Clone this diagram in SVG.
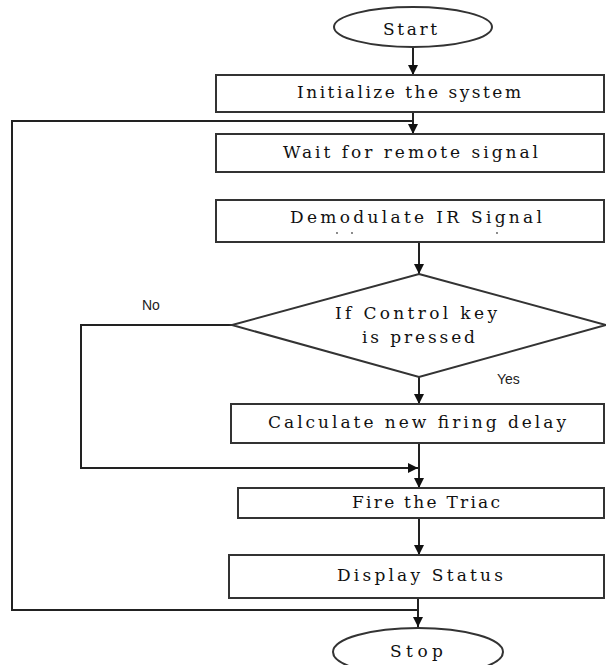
<svg xmlns="http://www.w3.org/2000/svg" width="606" height="665" viewBox="0 0 606 665">
  <style>
    .shape { fill: #ffffff; stroke: #333333; stroke-width: 2; }
    .wire { fill: none; stroke: #222222; stroke-width: 2; }
    .lbl { font-family: "DejaVu Serif", "Liberation Serif", serif; font-size: 17px; fill: #111111; text-anchor: start; }
    .tag { font-family: "Liberation Sans", Arial, sans-serif; font-size: 14px; fill: #222222; }
  </style>
  <defs>
    <marker id="arrow" viewBox="0 0 10 10" refX="10" refY="5" markerWidth="10" markerHeight="10" markerUnits="userSpaceOnUse" orient="auto">
      <path d="M0,0 L10,5 L0,10 Z" fill="#111111"/>
    </marker>
  </defs>

  <!-- flow lines -->
  <g id="connectors">
    <path class="wire" d="M413,48 V75" marker-end="url(#arrow)"/>
    <path class="wire" d="M413,112 V134" marker-end="url(#arrow)"/>
    <path class="wire" d="M418,610 H12 V121 H413"/>
    <path class="wire" d="M419,242 V274" marker-end="url(#arrow)"/>
    <path class="wire" d="M419,377 V404" marker-end="url(#arrow)"/>
    <path class="wire" d="M419,443 V488" marker-end="url(#arrow)"/>
    <path class="wire" d="M232,325 H81 V468 H418" marker-end="url(#arrow)"/>
    <path class="wire" d="M419,518 V555" marker-end="url(#arrow)"/>
    <path class="wire" d="M418,598 V627" marker-end="url(#arrow)"/>
    <text class="tag" x="142" y="310">No</text>
    <text class="tag" x="497" y="384">Yes</text>
  </g>

  <g id="start">
    <ellipse class="shape" cx="413" cy="27" rx="79" ry="20"/>
    <text class="lbl" x="383" y="35" textLength="54" lengthAdjust="spacing">Start</text>
  </g>

  <g id="init">
    <rect class="shape" x="216" y="75" width="388" height="37"/>
    <text class="lbl" x="297" y="98" textLength="224" lengthAdjust="spacing">Initialize the system</text>
  </g>

  <g id="wait">
    <rect class="shape" x="216" y="134" width="388" height="38"/>
    <text class="lbl" x="283" y="158" textLength="255" lengthAdjust="spacing">Wait for remote signal</text>
  </g>

  <g id="demodulate">
    <rect class="shape" x="216" y="200" width="388" height="42"/>
    <text class="lbl" x="290" y="223" textLength="252" lengthAdjust="spacing">Demodulate IR Signal</text>
    <circle cx="337" cy="233" r="0.9" fill="#555555"/>
    <circle cx="352" cy="233" r="0.9" fill="#555555"/>
    <circle cx="497" cy="233" r="0.9" fill="#555555"/>
  </g>

  <g id="decision">
    <polygon class="shape" points="419,274 606,325 419,377 232,325"/>
    <text class="lbl" x="335" y="319" textLength="162" lengthAdjust="spacing">If Control key</text>
    <text class="lbl" x="362" y="343" textLength="113" lengthAdjust="spacing">is pressed</text>
  </g>

  <g id="calculate">
    <rect class="shape" x="231" y="404" width="373" height="39"/>
    <text class="lbl" x="268" y="428" textLength="298" lengthAdjust="spacing">Calculate new firing delay</text>
  </g>

  <g id="fire">
    <rect class="shape" x="238" y="488" width="366" height="30"/>
    <text class="lbl" x="352" y="508" textLength="148" lengthAdjust="spacing">Fire the Triac</text>
  </g>

  <g id="display">
    <rect class="shape" x="229" y="555" width="375" height="43"/>
    <text class="lbl" x="337" y="581" textLength="166" lengthAdjust="spacing">Display Status</text>
  </g>

  <g id="stop">
    <ellipse class="shape" cx="418" cy="652" rx="85" ry="24"/>
    <text class="lbl" x="390" y="657" textLength="53" lengthAdjust="spacing">Stop</text>
  </g>
</svg>
